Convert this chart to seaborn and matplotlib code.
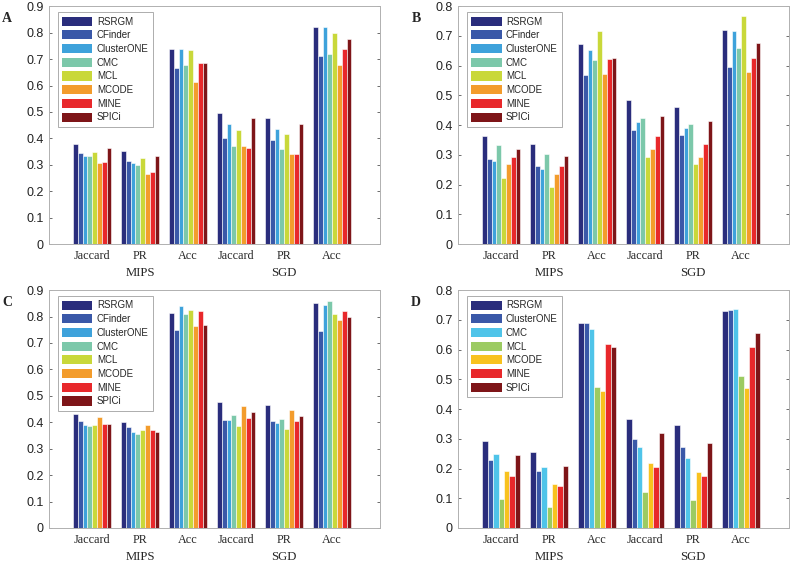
"""
Grouped bar charts: complex detection scores on MIPS and SGD (panels A-D)
"""

import pandas as pd
import matplotlib.pyplot as plt
import matplotlib.transforms as mtransforms
import seaborn as sns

# x groups: three metrics for each of the two datasets
DATASETS = ["MIPS", "MIPS", "MIPS", "SGD", "SGD", "SGD"]
METRICS = ["Jaccard", "PR", "Acc", "Jaccard", "PR", "Acc"]

METHODS_8 = ["RSRGM", "CFinder", "ClusterONE", "CMC", "MCL", "MCODE", "MINE", "SPICi"]
COLORS_8 = ["#2a2d7c", "#3a58a8", "#3ea2db", "#7cc8aa", "#c9d83a", "#f39c2c", "#e8282b", "#7e1518"]

METHODS_7 = ["RSRGM", "ClusterONE", "CMC", "MCL", "MCODE", "MINE", "SPICi"]
COLORS_7 = ["#2a2d7c", "#3a58a8", "#4fc4e9", "#9ccb62", "#f8c21f", "#e8282b", "#7e1518"]

# one row per x group, one column per method
VALUES_A = [
    [0.380, 0.345, 0.333, 0.333, 0.350, 0.307, 0.312, 0.365],
    [0.353, 0.315, 0.307, 0.300, 0.327, 0.267, 0.273, 0.333],
    [0.737, 0.667, 0.737, 0.678, 0.735, 0.612, 0.687, 0.687],
    [0.497, 0.403, 0.453, 0.372, 0.432, 0.370, 0.362, 0.478],
    [0.478, 0.393, 0.437, 0.360, 0.415, 0.340, 0.340, 0.455],
    [0.822, 0.710, 0.822, 0.720, 0.800, 0.678, 0.737, 0.775],
]
VALUES_B = [
    [0.363, 0.287, 0.280, 0.333, 0.222, 0.270, 0.293, 0.320],
    [0.338, 0.263, 0.252, 0.303, 0.193, 0.237, 0.262, 0.295],
    [0.673, 0.570, 0.652, 0.620, 0.718, 0.573, 0.623, 0.625],
    [0.483, 0.383, 0.410, 0.423, 0.293, 0.320, 0.363, 0.430],
    [0.462, 0.368, 0.392, 0.403, 0.270, 0.293, 0.338, 0.413],
    [0.720, 0.595, 0.715, 0.658, 0.767, 0.580, 0.627, 0.675],
]
VALUES_C = [
    [0.433, 0.403, 0.390, 0.387, 0.390, 0.420, 0.395, 0.395],
    [0.400, 0.383, 0.365, 0.355, 0.370, 0.390, 0.372, 0.365],
    [0.815, 0.750, 0.840, 0.810, 0.825, 0.765, 0.822, 0.767],
    [0.475, 0.410, 0.408, 0.428, 0.387, 0.462, 0.415, 0.440],
    [0.465, 0.405, 0.398, 0.413, 0.375, 0.448, 0.405, 0.425],
    [0.852, 0.745, 0.845, 0.860, 0.810, 0.787, 0.820, 0.798],
]
VALUES_D = [
    [0.292, 0.227, 0.250, 0.098, 0.193, 0.175, 0.245],
    [0.257, 0.190, 0.205, 0.072, 0.148, 0.140, 0.208],
    [0.688, 0.688, 0.670, 0.475, 0.462, 0.620, 0.610],
    [0.368, 0.300, 0.272, 0.120, 0.220, 0.205, 0.318],
    [0.347, 0.273, 0.237, 0.095, 0.187, 0.175, 0.287],
    [0.730, 0.732, 0.735, 0.512, 0.470, 0.608, 0.655],
]

SERIF = "Liberation Serif"
SANS = "Liberation Sans"


def to_long(values, methods):
    """
    Turn a groups x methods table into a long dataframe for seaborn.
    """
    rows = []
    for g, row in enumerate(values):
        key = f"{DATASETS[g]} {METRICS[g]}"
        for method, v in zip(methods, row):
            rows.append({"group": key, "method": method, "value": v})
    return pd.DataFrame(rows)


def draw_panel(ax, values, methods, colors, letter, ymax):
    df = to_long(values, methods)
    sns.barplot(
        data=df,
        x="group",
        y="value",
        hue="method",
        hue_order=methods,
        palette=dict(zip(methods, colors)),
        width=0.8,
        edgecolor="white",
        linewidth=0.4,
        saturation=1,
        ax=ax,
    )
    n_ticks = int(round(ymax * 10)) + 1
    ax.set_xlim(-0.9, 6.0)
    ax.set_ylim(0, ymax)
    ax.set_yticks([round(0.1 * i, 1) for i in range(n_ticks)])
    ax.set_yticklabels(["0"] + [f"{0.1 * i:.1f}" for i in range(1, n_ticks)],
                       fontsize=9, family=SANS, color="#222222")
    ax.set_xticks(range(6))
    ax.set_xticklabels(METRICS, fontsize=8.7, family=SERIF)
    ax.set_xlabel("")
    ax.set_ylabel("")

    for side in ["left", "right", "top", "bottom"]:
        ax.spines[side].set_visible(True)
        ax.spines[side].set_color("#b0b0b0")
        ax.spines[side].set_linewidth(0.7)
    ax.tick_params(axis="y", direction="in", length=2.5, width=0.6, color="#555555",
                   left=True, right=True, pad=4)
    ax.tick_params(axis="x", length=0, pad=4)

    # dataset names under the middle metric of each block
    trans = mtransforms.blended_transform_factory(ax.transData, ax.transAxes)
    for x, name in [(1, "MIPS"), (4, "SGD")]:
        ax.text(x, -0.122, name, transform=trans, ha="center", va="center",
                fontsize=9.2, family=SERIF)

    ax.text(-0.127, 0.95, letter, transform=ax.transAxes, ha="center", va="center",
            fontsize=10, fontweight="bold", family=SERIF)

    leg = ax.legend(
        loc="upper left",
        bbox_to_anchor=(0.027, 0.975),
        borderaxespad=0,
        frameon=True,
        fancybox=False,
        prop={"family": SANS, "size": 7},
        handlelength=3.1,
        handleheight=1.05,
        handletextpad=0.45,
        labelspacing=0.38,
        borderpad=0.45,
    )
    leg.get_frame().set_edgecolor("#888888")
    leg.get_frame().set_linewidth(0.6)
    for patch in leg.get_patches():
        patch.set_edgecolor("none")


def main():
    sns.set_style("white")
    plt.rcParams["font.family"] = [SANS, "DejaVu Sans"]

    fig = plt.figure(figsize=(7.98, 5.65), dpi=100)
    w, h = 0.415, 0.421
    ax_a = fig.add_axes([0.0614, 0.568, w, h])
    ax_b = fig.add_axes([0.574, 0.568, w, h])
    ax_c = fig.add_axes([0.0614, 0.0655, w, h])
    ax_d = fig.add_axes([0.574, 0.0655, w, h])

    draw_panel(ax_a, VALUES_A, METHODS_8, COLORS_8, "A", 0.9)
    draw_panel(ax_b, VALUES_B, METHODS_8, COLORS_8, "B", 0.8)
    draw_panel(ax_c, VALUES_C, METHODS_8, COLORS_8, "C", 0.9)
    draw_panel(ax_d, VALUES_D, METHODS_7, COLORS_7, "D", 0.8)

    fig.savefig("out.png", dpi=100)


if __name__ == "__main__":
    main()
